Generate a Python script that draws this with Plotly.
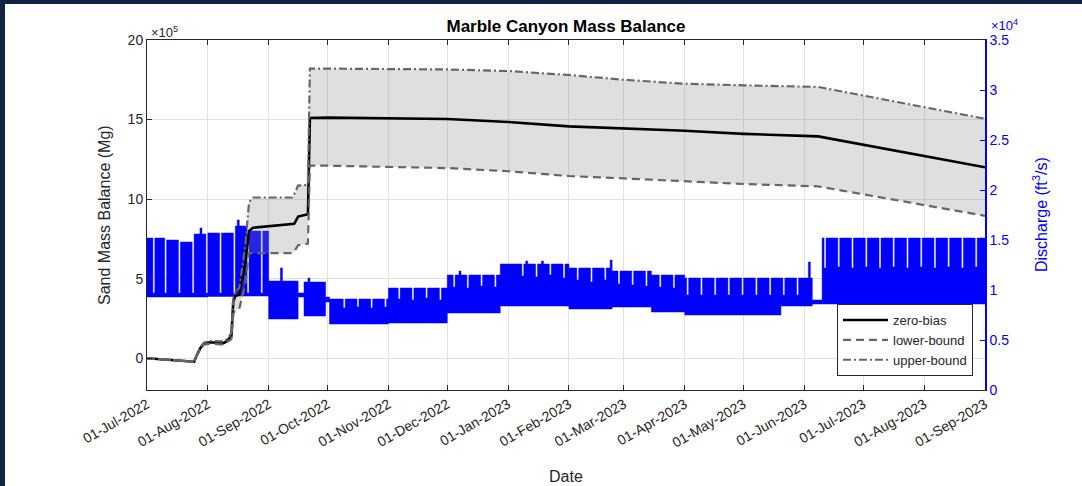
import datetime as dt
import plotly.graph_objects as go

# ---------------- Sand mass balance (units of 10^5 Mg) ----------------
sand_dates = [
    "2022-07-01", "2022-07-25", "2022-07-26", "2022-07-28", "2022-07-30",
    "2022-08-02", "2022-08-09", "2022-08-11", "2022-08-13", "2022-08-14",
    "2022-08-15", "2022-08-17", "2022-08-20", "2022-08-22", "2022-08-24",
    "2022-09-13", "2022-09-14", "2022-09-16", "2022-09-21", "2022-09-22",
    "2022-10-01", "2022-12-01", "2023-01-01", "2023-02-01", "2023-03-01",
    "2023-04-01", "2023-05-01", "2023-06-08", "2023-09-01",
]
zero_bias = [
    0.0, -0.22, 0.08, 0.60, 0.92,
    1.00, 0.95, 1.10, 1.40, 3.60,
    3.90, 4.00, 5.90, 8.00, 8.20,
    8.40, 8.45, 8.90, 9.05, 15.10,
    15.12, 15.03, 14.85, 14.57, 14.45,
    14.30, 14.10, 13.94, 12.00,
]
lower_bound = [
    0.0, -0.22, 0.08, 0.55, 0.85,
    0.92, 0.85, 1.00, 1.20, 2.80,
    3.00, 3.10, 4.60, 6.60, 6.60,
    6.60, 6.70, 7.10, 7.20, 12.10,
    12.10, 11.95, 11.75, 11.45, 11.30,
    11.10, 10.95, 10.80, 8.95,
]
upper_bound = [
    0.0, -0.22, 0.08, 0.65, 0.98,
    1.08, 1.05, 1.20, 1.60, 3.90,
    4.20, 4.40, 7.00, 9.80, 10.10,
    10.10, 10.30, 10.85, 10.90, 18.20,
    18.20, 18.15, 18.05, 17.80, 17.50,
    17.25, 17.15, 17.05, 15.05,
]

# ---------------- Discharge (ft^3/s) ----------------
# flow-regime blocks: daily low / daily high from each start date
flow_block_start = [
    "2022-07-01", "2022-07-11", "2022-07-18", "2022-07-25", "2022-08-01",
    "2022-08-15", "2022-08-22", "2022-09-01", "2022-09-16", "2022-09-19",
    "2022-09-30", "2022-10-02", "2022-11-01", "2022-12-01", "2022-12-28",
    "2023-02-01", "2023-02-23", "2023-03-15", "2023-04-01", "2023-05-20",
    "2023-06-05", "2023-06-10",
]
flow_block_low = [
    9300, 9300, 9300, 9300, 9350,
    9400, 9400, 7100, 9300, 7400,
    8800, 6600, 6700, 7700, 8400,
    8100, 8300, 7800, 7500, 8400,
    8600, 8600,
]
flow_block_high = [
    15200, 15000, 14800, 15600, 15700,
    16400, 15900, 10900, 9700, 10800,
    9300, 9100, 10200, 11500, 12600,
    12200, 11900, 11500, 11200, 11200,
    9000, 15200,
]
# weekend / holiday low-flow days (daily high on that day)
low_flow_days = [
    "2022-07-04", "2022-07-10", "2022-07-17", "2022-07-24", "2022-07-31",
    "2022-08-07", "2022-08-14", "2022-08-21", "2022-08-28",
    "2022-10-09", "2022-10-16", "2022-10-23", "2022-10-30",
    "2022-11-06", "2022-11-13", "2022-11-20", "2022-11-27",
    "2022-12-04", "2022-12-11", "2022-12-18", "2022-12-25",
    "2023-01-08", "2023-01-15", "2023-01-22", "2023-01-29",
    "2023-02-05", "2023-02-12", "2023-02-19", "2023-02-26",
    "2023-03-05", "2023-03-12", "2023-03-19", "2023-03-26",
    "2023-04-02", "2023-04-09", "2023-04-16", "2023-04-23", "2023-04-30",
    "2023-05-07", "2023-05-14", "2023-05-21", "2023-05-28",
    "2023-06-11", "2023-06-18", "2023-06-25", "2023-07-02", "2023-07-09",
    "2023-07-16", "2023-07-23", "2023-07-30", "2023-08-06", "2023-08-13",
    "2023-08-20", "2023-08-27",
]
low_flow_high = [
    9700, 9700, 9700, 9700, 9700,
    9700, 9700, 9700, 9700,
    8200, 8300, 8200, 8300,
    9100, 9000, 9200, 9000,
    10300, 10200, 10400, 10300,
    11400, 11300, 11500, 11200,
    11000, 10800, 11000, 10600,
    10500, 10400, 10300, 10200,
    9500, 9500, 9500, 9500, 9500,
    9500, 9500, 9500, 9500,
    12200, 12300, 12200, 12300, 12200,
    12300, 12200, 12300, 12200, 12300,
    12200, 12300,
]
# single-day peaks
peak_days = ["2022-07-28", "2022-08-16", "2022-09-07", "2022-09-21",
             "2022-12-07", "2023-01-10", "2023-01-18", "2023-02-22",
             "2023-06-03"]
peak_high = [16200, 17000, 12200, 11200, 11900, 12900, 12900, 13000, 12800]

discharge_ticks = [0, 5000, 10000, 15000, 20000, 25000, 30000, 35000]
discharge_ticktext = ["0", "0.5", "1", "1.5", "2", "2.5", "3", "3.5"]
sand_ticks = [0, 5, 10, 15, 20]

# daily low / high series built from the blocks above
day = dt.date.fromisoformat
blocks = [day(s) for s in flow_block_start]
special = dict(zip(low_flow_days, low_flow_high))
special.update(zip(peak_days, peak_high))
q_days, q_low, q_high = [], [], []
d, last = day("2022-07-01"), day("2023-09-01")
while d <= last:
    i = max(k for k, b in enumerate(blocks) if b <= d)
    q_days.append(d)
    q_low.append(flow_block_low[i])
    q_high.append(special.get(d.isoformat(), flow_block_high[i]))
    d += dt.timedelta(days=1)

# ---------------- figure ----------------
W, H = 1082, 486
L, R, T, B = 147, 97, 40, 96
PW, PH = W - L - R, H - T - B


def px_x(px):
    return (px - L) / PW


def px_y(py):
    return (H - B - py) / PH


FONT = "Liberation Sans, Arial, sans-serif"
DARK = "#262626"
BLUE = "#0000ff"
GRID = "#e2e2e2"

fig = go.Figure()

# discharge band (daily low to daily high)
fig.add_trace(go.Scatter(x=q_days, y=q_low, yaxis="y", mode="lines",
                         line=dict(color=BLUE, width=0.5, shape="hv"),
                         showlegend=False, hoverinfo="skip"))
fig.add_trace(go.Scatter(x=q_days, y=q_high, yaxis="y", mode="lines",
                         fill="tonexty", fillcolor=BLUE,
                         line=dict(color=BLUE, width=0.5, shape="hv"),
                         showlegend=False, hoverinfo="skip"))

# uncertainty envelope
fig.add_trace(go.Scatter(x=sand_dates, y=upper_bound, yaxis="y2", mode="lines",
                         line=dict(width=0), showlegend=False, hoverinfo="skip"))
fig.add_trace(go.Scatter(x=sand_dates, y=lower_bound, yaxis="y2", mode="lines",
                         fill="tonexty", fillcolor="rgba(140,140,140,0.28)",
                         line=dict(width=0), showlegend=False, hoverinfo="skip"))

# mass balance lines
fig.add_trace(go.Scatter(x=sand_dates, y=zero_bias, yaxis="y2", mode="lines",
                         name="zero-bias", line=dict(color="black", width=2.6)))
fig.add_trace(go.Scatter(x=sand_dates, y=lower_bound, yaxis="y2", mode="lines",
                         name="lower-bound",
                         line=dict(color="#666666", width=2.2, dash="8px,5px")))
fig.add_trace(go.Scatter(x=sand_dates, y=upper_bound, yaxis="y2", mode="lines",
                         name="upper-bound",
                         line=dict(color="#666666", width=2.2, dash="8px,3px,2px,3px")))

fig.update_layout(
    width=W, height=H,
    margin=dict(l=L, r=R, t=T, b=B),
    paper_bgcolor="white", plot_bgcolor="white",
    font=dict(family=FONT, color=DARK, size=14),
    title=dict(text="<b>Marble Canyon Mass Balance</b>", x=0.5, xref="paper",
               xanchor="center", y=1 - 26 / H, yanchor="middle",
               font=dict(size=17, color="black")),
    xaxis=dict(
        type="date", range=["2022-07-01", "2023-09-01"],
        tick0="2022-07-01", dtick="M1", tickformat="%d-%b-%Y", tickangle=-30,
        ticks="inside", ticklen=5, tickcolor=DARK,
        showline=True, linecolor=DARK, linewidth=1, mirror="ticks",
        showgrid=True, gridcolor=GRID, gridwidth=1, zeroline=False,
        tickfont=dict(size=14, color=DARK),
    ),
    yaxis=dict(
        side="right", range=[0, 35000],
        tickvals=discharge_ticks, ticktext=discharge_ticktext,
        ticks="inside", ticklen=5, tickcolor=BLUE,
        showline=True, linecolor=BLUE, linewidth=1.5,
        showgrid=False, zeroline=False,
        tickfont=dict(size=14, color=BLUE),
    ),
    yaxis2=dict(
        overlaying="y", side="left", range=[-2, 20], tickvals=sand_ticks,
        ticks="inside", ticklen=5, tickcolor=DARK,
        showline=True, linecolor=DARK, linewidth=1,
        showgrid=True, gridcolor=GRID, gridwidth=1, zeroline=False,
        tickfont=dict(size=14, color=DARK),
    ),
    legend=dict(
        x=px_x(973), xanchor="right", y=px_y(376), yanchor="bottom",
        bgcolor="white", bordercolor=DARK, borderwidth=1, traceorder="normal",
        font=dict(size=13, color=DARK), itemwidth=45, tracegroupgap=0,
    ),
    annotations=[
        dict(text="×10<sup>5</sup>", x=px_x(149), y=px_y(32), xref="paper", yref="paper",
             xanchor="left", yanchor="middle", showarrow=False,
             font=dict(size=13, color=DARK)),
        dict(text="×10<sup>4</sup>", x=px_x(989), y=px_y(25), xref="paper", yref="paper",
             xanchor="left", yanchor="middle", showarrow=False,
             font=dict(size=13, color=BLUE)),
        dict(text="Date", x=0.5, y=px_y(476), xref="paper", yref="paper",
             xanchor="center", yanchor="middle", showarrow=False,
             font=dict(size=16, color=DARK)),
        dict(text="Sand Mass Balance (Mg)", x=px_x(104), y=px_y(215),
             xref="paper", yref="paper", xanchor="center", yanchor="middle",
             textangle=-90, showarrow=False, font=dict(size=16, color=DARK)),
        dict(text="Discharge (ft<sup>3</sup>/s)", x=px_x(1040), y=px_y(215),
             xref="paper", yref="paper", xanchor="center", yanchor="middle",
             textangle=-90, showarrow=False, font=dict(size=16, color=BLUE)),
    ],
    shapes=[
        dict(type="rect", xref="paper", yref="paper", layer="above",
             x0=px_x(0), x1=px_x(5), y0=px_y(H), y1=px_y(0),
             fillcolor="#102442", line=dict(width=0)),
        dict(type="rect", xref="paper", yref="paper", layer="above",
             x0=px_x(0), x1=px_x(W), y0=px_y(4), y1=px_y(0),
             fillcolor="#102442", line=dict(width=0)),
    ],
)

fig.write_html("out.html")
